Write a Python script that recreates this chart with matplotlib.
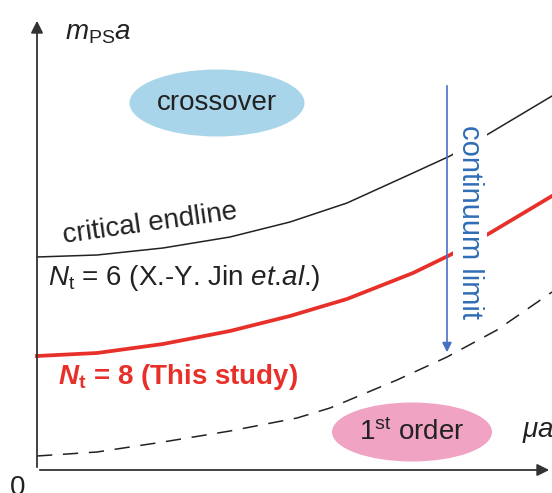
import matplotlib
matplotlib.use("Agg")
import matplotlib.pyplot as plt
from matplotlib.patches import Ellipse

plt.rcParams['font.family'] = ['Liberation Sans', 'DejaVu Sans']
plt.rcParams['mathtext.fontset'] = 'custom'
plt.rcParams['mathtext.rm'] = 'Liberation Sans'
plt.rcParams['mathtext.it'] = 'Liberation Sans:italic'
plt.rcParams['mathtext.bf'] = 'Liberation Sans:bold'
plt.rcParams['mathtext.bfit'] = 'Liberation Sans:italic:bold'

# schematic curves (mu*a, m_PS*a), origin at the axes corner
endline_x = [0, 60, 126, 193, 253, 310, 376, 413, 453, 515]
endline_y = [213, 215, 222, 233, 248, 267, 297, 314, 337, 374]

nt8_x = [0, 60, 126, 193, 253, 310, 376, 413, 453, 515]
nt8_y = [114, 117, 126, 139, 154, 171, 197, 215, 237, 274]

cont_x = [0, 60, 126, 193, 260, 293, 360, 410, 460, 515]
cont_y = [14, 18, 28, 39, 52, 62, 90, 113, 140, 178]

fig = plt.figure(figsize=(5.52, 4.93), dpi=100)
ax = fig.add_axes([0, 0, 1, 1])
ax.set_xlim(-37, 515)
ax.set_ylim(-23, 470)
ax.axis('off')

# axes with arrows
ax.annotate('', xy=(515, 0), xytext=(0, 0),
            arrowprops=dict(arrowstyle='-|>', color='#333333', lw=1.3, mutation_scale=18))
ax.annotate('', xy=(0, 452), xytext=(0, 0),
            arrowprops=dict(arrowstyle='-|>', color='#333333', lw=1.3, mutation_scale=18))

ax.plot(endline_x, endline_y, color='#222222', lw=1.1, solid_joinstyle='round')
ax.plot(nt8_x, nt8_y, color='#e8302a', lw=2.7, solid_joinstyle='round')
ax.plot(cont_x, cont_y, color='#222222', lw=1.1, ls=(0, (10, 7)))

# regions
ax.add_patch(Ellipse((180, 367), 175, 67, color='#a9d5ea', lw=0))
ax.text(180, 367, 'crossover', fontsize=20, ha='center', va='center', color='#222222')
ax.add_patch(Ellipse((375, 38), 160, 59, color='#f0a3c3', lw=0))
ax.text(375, 38, '1$^{\\rm st}$ order', fontsize=20, ha='center', va='center', color='#222222')

# continuum limit arrow
ax.annotate('', xy=(410, 115), xytext=(410, 387),
            arrowprops=dict(arrowstyle='-|>', color='#4a70c4', lw=1.2, mutation_scale=14))
ax.text(433, 248, 'continuum limit', fontsize=21, rotation=-90, ha='center', va='center',
        color='#2f6db5', bbox=dict(facecolor='white', edgecolor='none', pad=2), zorder=5)

# labels
ax.text(28, 437, '$m_{\\rm PS}a$', fontsize=20, ha='left', va='center', color='#222222')
ax.text(485, 38, '$\\mu a$', fontsize=20, ha='left', va='center', color='#222222')
ax.text(-19, -18, '0', fontsize=20, ha='center', va='center', color='#222222')
ax.text(113, 246, 'critical endline', fontsize=20, rotation=8, ha='center', va='center',
        color='#222222')
ax.text(11, 192, '$N_{\\rm t}$ = 6 (X.-Y. Jin $et$.$al$.)', fontsize=20, ha='left', va='center',
        color='#222222')
ax.text(21, 93, '$\\mathbfit{N}_{\\mathbf{t}}$ = 8 (This study)', fontsize=20, ha='left',
        va='center', color='#e8302a', fontweight='bold')

fig.savefig('out.png', dpi=100)
